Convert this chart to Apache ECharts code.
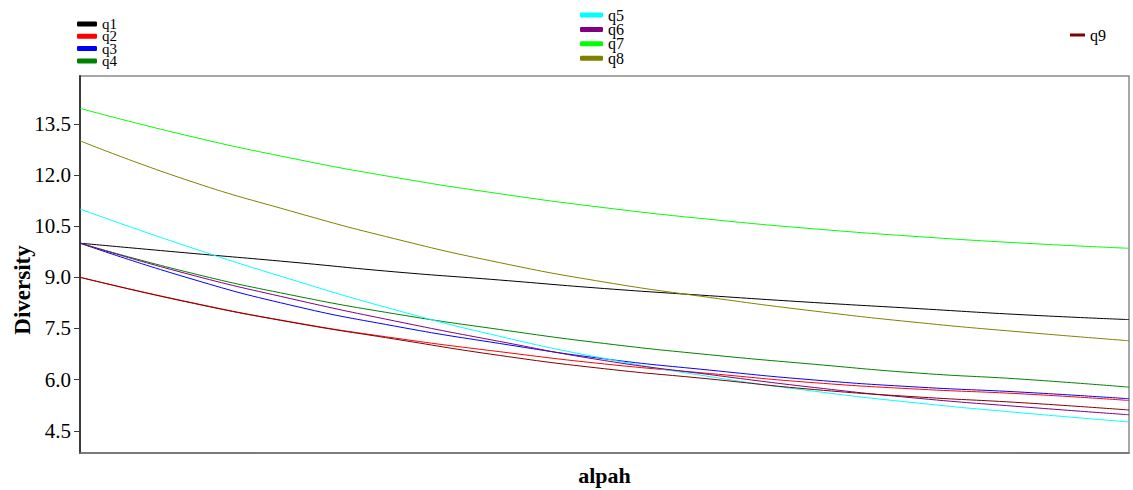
<!DOCTYPE html>
<html>
<head>
<meta charset="utf-8">
<script src="https://cdn.jsdelivr.net/npm/echarts@6/dist/echarts.min.js"></script>
<style>
  html, body { margin: 0; padding: 0; background: #fff; }
  #chart { width: 1133px; height: 490px; }
</style>
</head>
<body>
<div id="chart"></div>
<script>
// alpha sample points (x axis has no tick labels)
const alpha = [0, 0.1, 0.2, 0.3, 0.4, 0.5, 0.6, 0.7, 0.8, 0.9, 1.0];

// diversity per query
const q1 = [10.00, 9.72, 9.45, 9.16, 8.92, 8.67, 8.46, 8.26, 8.08, 7.90, 7.76];
const q2 = [9.00, 8.30, 7.70, 7.22, 6.82, 6.46, 6.18, 5.91, 5.72, 5.58, 5.39];
const q3 = [10.00, 9.01, 8.19, 7.57, 7.06, 6.61, 6.28, 5.99, 5.78, 5.63, 5.44];
const q4 = [10.00, 9.17, 8.49, 7.93, 7.47, 7.06, 6.73, 6.45, 6.19, 6.01, 5.78];
const q5 = [11.00, 9.93, 8.95, 8.05, 7.27, 6.62, 6.09, 5.66, 5.31, 5.02, 4.76];
const q6 = [10.00, 9.12, 8.38, 7.72, 7.12, 6.56, 6.15, 5.77, 5.45, 5.20, 4.97];
const q7 = [13.95, 13.17, 12.50, 11.93, 11.45, 11.04, 10.70, 10.42, 10.19, 10.00, 9.85];
const q8 = [13.00, 11.87, 10.95, 10.13, 9.43, 8.86, 8.41, 8.01, 7.67, 7.39, 7.14];
const q9 = [9.00, 8.29, 7.69, 7.19, 6.71, 6.32, 6.02, 5.71, 5.49, 5.32, 5.11];

const yTicks = [4.5, 6.0, 7.5, 9.0, 10.5, 12.0, 13.5];

const seriesList = [
  { name: 'q1', data: q1, color: '#000000' },
  { name: 'q2', data: q2, color: '#ff0000' },
  { name: 'q3', data: q3, color: '#0000ff' },
  { name: 'q4', data: q4, color: '#008000' },
  { name: 'q5', data: q5, color: '#00ffff' },
  { name: 'q6', data: q6, color: '#800080' },
  { name: 'q7', data: q7, color: '#00ff00' },
  { name: 'q8', data: q8, color: '#808000' },
  { name: 'q9', data: q9, color: '#800000' }
];

const serif = "'Liberation Serif', 'Times New Roman', serif";

const chart = echarts.init(document.getElementById('chart'), null, { renderer: 'svg' });

const legendText = size => ({ fontFamily: serif, fontSize: size, color: '#000' });

chart.setOption({
  animation: false,
  backgroundColor: '#ffffff',
  grid: {
    left: 80, right: 4, top: 76, bottom: 37,
    outerBoundsMode: 'none', containLabel: false,
    show: true, borderColor: '#8a8a8a', borderWidth: 1.5, backgroundColor: 'transparent'
  },
  legend: [
    {
      data: ['q1', 'q2', 'q3', 'q4'],
      orient: 'vertical', left: 77, top: 16.5, padding: 0,
      itemGap: -2.7, itemWidth: 20, itemHeight: 5, icon: 'roundRect',
      textStyle: legendText(15)
    },
    {
      data: ['q5', 'q6', 'q7', 'q8'],
      orient: 'vertical', left: 580, top: 7, padding: 0,
      itemGap: -1.6, itemWidth: 23, itemHeight: 5, icon: 'roundRect',
      textStyle: legendText(16)
    },
    {
      data: ['q9'],
      orient: 'vertical', left: 1070, top: 27, padding: 0,
      itemGap: 0, itemWidth: 15, itemHeight: 3, icon: 'rect',
      textStyle: legendText(16)
    }
  ],
  xAxis: {
    type: 'value', min: 0, max: 1,
    name: 'alpah', nameLocation: 'middle', nameGap: 11,
    nameTextStyle: { fontFamily: serif, fontSize: 22, fontWeight: 'bold', color: '#000' },
    axisLine: { show: true, lineStyle: { color: '#6e6e6e', width: 1.5 } },
    axisTick: { show: false },
    axisLabel: { show: false },
    splitLine: { show: false }
  },
  yAxis: {
    type: 'value', min: 3.85, max: 14.9,
    name: 'Diversity', nameLocation: 'middle', nameGap: 46, nameRotate: 90,
    nameMoveOverlap: false,
    nameTextStyle: { fontFamily: serif, fontSize: 23, fontWeight: 'bold', color: '#000', padding: [0, 51, 0, 0] },
    axisLine: { show: true, lineStyle: { color: '#3c3c3c', width: 2 } },
    axisTick: { show: true, length: 6, customValues: yTicks, lineStyle: { color: '#3c3c3c', width: 1 } },
    axisLabel: {
      show: true, customValues: yTicks, margin: 9,
      fontFamily: serif, fontSize: 21, color: '#000',
      formatter: v => v.toFixed(1)
    },
    splitLine: { show: false }
  },
  series: seriesList.map(s => ({
    name: s.name,
    type: 'line',
    smooth: true,
    showSymbol: false,
    symbol: 'none',
    color: s.color,
    lineStyle: { width: 1, color: s.color },
    data: alpha.map((a, i) => [a, s.data[i]])
  }))
});
</script>
</body>
</html>
